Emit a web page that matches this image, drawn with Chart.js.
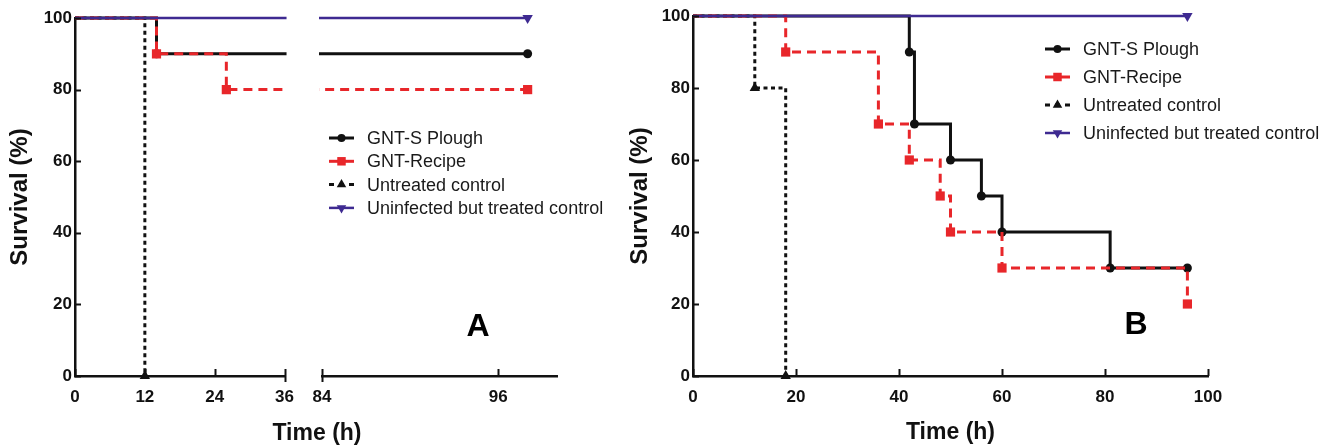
<!DOCTYPE html>
<html>
<head>
<meta charset="utf-8">
<script src="https://cdn.jsdelivr.net/npm/chart.js@4"></script>
<style>
  body { margin: 0; background: #fff; }
  #wrap { position: relative; width: 1337px; height: 446px; overflow: hidden; }
  canvas { position: absolute; top: 0; }
  .xtitle { position: absolute; font: bold 23px Arial, "Liberation Sans", sans-serif; color: #111; text-align: center; line-height: 28px; }
</style>
</head>
<body>
<div id="wrap">
  <canvas id="a1" width="305" height="446" style="left:0"></canvas>
  <canvas id="a2" width="340" height="446" style="left:300px"></canvas>
  <canvas id="b" width="717" height="446" style="left:620px"></canvas>
  <div class="xtitle" style="left:217px;width:200px;top:418px">Time (h)</div>
</div>
<script>
const seriesNames = ["GNT-S Plough", "GNT-Recipe", "Untreated control", "Uninfected but treated control"];

// panel A (hours, survival %)
const aPloughT = [0, 14, 98];
const aPloughS = [100, 90, 90];
const aRecipeT = [0, 14, 26, 98];
const aRecipeS = [100, 90, 80, 80];
const aUntreatedT = [0, 12];
const aUntreatedS = [100, 0];
const aUninfectedT = [0, 98];
const aUninfectedS = [100, 100];

// panel B
const bPloughT = [0, 42, 43, 50, 56, 60, 81, 96];
const bPloughS = [100, 90, 70, 60, 50, 40, 30, 30];
const bRecipeT = [0, 18, 36, 42, 48, 50, 60, 96];
const bRecipeS = [100, 90, 70, 60, 50, 40, 30, 20];
const bUntreatedT = [0, 12, 18];
const bUntreatedS = [100, 80, 0];
const bUninfectedT = [0, 96];
const bUninfectedS = [100, 100];

// tick labels
const yTicks = [0, 20, 40, 60, 80, 100];
const aTicksLeft = [0, 12, 24, 36];
const aTicksRight = [84, 96];
const bTicks = [0, 20, 40, 60, 80, 100];

const FONT = 'Arial, "Liberation Sans", sans-serif';
const RED = "rgb(232,38,42)";
const PURPLE = "rgb(62,42,145)";
const BLACK = "#111";

// look of each series, same order as seriesNames
const styles = [
  { color: BLACK, width: 3, dash: [], marker: "circle", r: 4.5, rot: 0, order: 2 },
  { color: RED, width: 3, dash: [9, 6], marker: "rect", r: 6.5, rot: 0, order: 1 },
  { color: BLACK, width: 3, dash: [4, 3.5], marker: "triangle", r: 6, rot: 0, order: 3 },
  { color: PURPLE, width: 2.5, dash: [], marker: "triangle", r: 6, rot: 180, order: 0 },
];

Chart.defaults.font.family = FONT;
Chart.defaults.color = BLACK;

function makeDatasets(times, values, clip) {
  return times.map((t, k) => {
    const st = styles[k];
    return {
      label: seriesNames[k],
      data: t.map((x, i) => ({ x: x, y: values[k][i] })),
      stepped: "before",
      borderColor: st.color,
      backgroundColor: st.color,
      borderWidth: st.width,
      borderDash: st.dash,
      pointStyle: st.marker,
      pointRotation: st.rot,
      pointRadius: t.map((_, i) => (i === 0 ? 0 : st.r)),
      pointBorderWidth: 0,
      fill: false,
      order: st.order,
      clip: clip,
    };
  });
}

// inward ticks, break marks, legend and panel letter
const extras = {
  id: "extras",
  afterDraw(chart, args, opts) {
    const ctx = chart.ctx;
    const area = chart.chartArea;
    ctx.save();
    ctx.strokeStyle = BLACK;
    ctx.lineWidth = 2;
    ctx.setLineDash([]);
    const xs = chart.scales.x;
    xs.ticks.forEach((t) => {
      const px = Math.round(xs.getPixelForValue(t.value)) + 0.5;
      const brk = (opts.breaks || []).includes(t.value);
      ctx.beginPath();
      ctx.moveTo(px, area.bottom - 7);
      ctx.lineTo(px, area.bottom + (brk ? 6 : 0));
      ctx.stroke();
    });
    const ys = chart.scales.y;
    if (ys.options.display) {
      ys.ticks.forEach((t) => {
        const py = Math.round(ys.getPixelForValue(t.value)) + 0.5;
        ctx.beginPath();
        ctx.moveTo(area.left, py);
        ctx.lineTo(area.left + 6, py);
        ctx.stroke();
      });
    }

    if (opts.letter) {
      ctx.font = "bold 32px " + FONT;
      ctx.fillStyle = "#000";
      ctx.textAlign = "center";
      ctx.textBaseline = "alphabetic";
      ctx.fillText(opts.letter.text, opts.letter.x, opts.letter.y);
    }

    if (opts.legend) {
      const lg = opts.legend;
      ctx.font = "18px " + FONT;
      ctx.textAlign = "left";
      ctx.textBaseline = "middle";
      seriesNames.forEach((name, k) => {
        const st = styles[k];
        const y = lg.y + k * lg.gap;
        ctx.strokeStyle = st.color;
        ctx.fillStyle = st.color;
        ctx.lineWidth = st.width;
        ctx.setLineDash(k === 2 ? [5, 5] : []);
        ctx.beginPath();
        ctx.moveTo(lg.x, y);
        ctx.lineTo(lg.x + 25, y);
        ctx.stroke();
        ctx.setLineDash([]);
        Chart.helpers.drawPoint(ctx, { pointStyle: st.marker, radius: st.marker === "rect" ? 6 : st.r - 0.5, rotation: st.rot, borderWidth: 0 }, lg.x + 12.5, y);
        ctx.fillStyle = "#1a1a1a";
        ctx.fillText(name, lg.x + 38, y + 1);
      });
    }
    ctx.restore();
  },
};

function makeChart(id, cfg) {
  return new Chart(document.getElementById(id), {
    type: "line",
    data: { datasets: makeDatasets(cfg.times, cfg.values, cfg.clip) },
    plugins: [extras],
    options: {
      responsive: false,
      animation: false,
      layout: { padding: cfg.padding },
      plugins: {
        legend: { display: false },
        tooltip: { enabled: false },
        extras: cfg.extras,
      },
      scales: {
        x: {
          type: "linear",
          min: cfg.xMin,
          max: cfg.xMax,
          afterBuildTicks: (s) => { s.ticks = cfg.xTicks.map((v) => ({ value: v })); },
          afterFit: (s) => { s.height = 70; },
          grid: { display: false, drawTicks: false },
          border: { display: true, color: BLACK, width: 2.5 },
          ticks: { font: { size: 17, weight: "bold" }, padding: 11, maxRotation: 0, color: "#111" },
          title: {
            display: !!cfg.xTitle,
            text: cfg.xTitle || "",
            font: { size: 23, weight: "bold" },
            padding: { top: 0, bottom: 0 },
            color: "#111",
          },
        },
        y: {
          display: cfg.showY,
          min: 0,
          max: 100,
          afterBuildTicks: (s) => { s.ticks = yTicks.map((v) => ({ value: v })); },
          afterFit: (s) => { s.width = cfg.yWidth; },
          grid: { display: false, drawTicks: false },
          border: { display: true, color: BLACK, width: 2.5 },
          ticks: { font: { size: 17, weight: "bold" }, padding: 3, color: "#111" },
          title: {
            display: true,
            text: "Survival (%)",
            font: { size: 24, weight: "bold" },
            padding: { top: 6, bottom: 0 },
            color: "#111",
          },
        },
      },
    },
  });
}

const aTimes = [aPloughT, aRecipeT, aUntreatedT, aUninfectedT];
const aValues = [aPloughS, aRecipeS, aUntreatedS, aUninfectedS];

makeChart("a1", {
  times: aTimes, values: aValues,
  xMin: 0, xMax: 36, xTicks: aTicksLeft,
  showY: true, yWidth: 75,
  padding: { top: 18, right: 10 },
  clip: { left: 6, top: 8, right: 2, bottom: 8 },
  extras: { breaks: [36] },
});

makeChart("a2", {
  times: aTimes, values: aValues,
  xMin: 84, xMax: 100, xTicks: aTicksRight,
  showY: false, yWidth: 0,
  padding: { top: 18, left: 22, right: 83 },
  clip: { left: 3, top: 8, right: 8, bottom: 8 },
  extras: {
    breaks: [84],
    legend: { x: 29, y: 138, gap: 23.3 },
    letter: { text: "A", x: 178, y: 336 },
  },
});

makeChart("b", {
  times: [bPloughT, bRecipeT, bUntreatedT, bUninfectedT],
  values: [bPloughS, bRecipeS, bUntreatedS, bUninfectedS],
  xMin: 0, xMax: 100, xTicks: bTicks,
  showY: true, yWidth: 73,
  padding: { top: 16, right: 129 },
  clip: { left: 6, top: 8, right: 8, bottom: 8 },
  xTitle: "Time (h)",
  extras: {
    legend: { x: 425, y: 49, gap: 28 },
    letter: { text: "B", x: 516, y: 334 },
  },
});
</script>
</body>
</html>
